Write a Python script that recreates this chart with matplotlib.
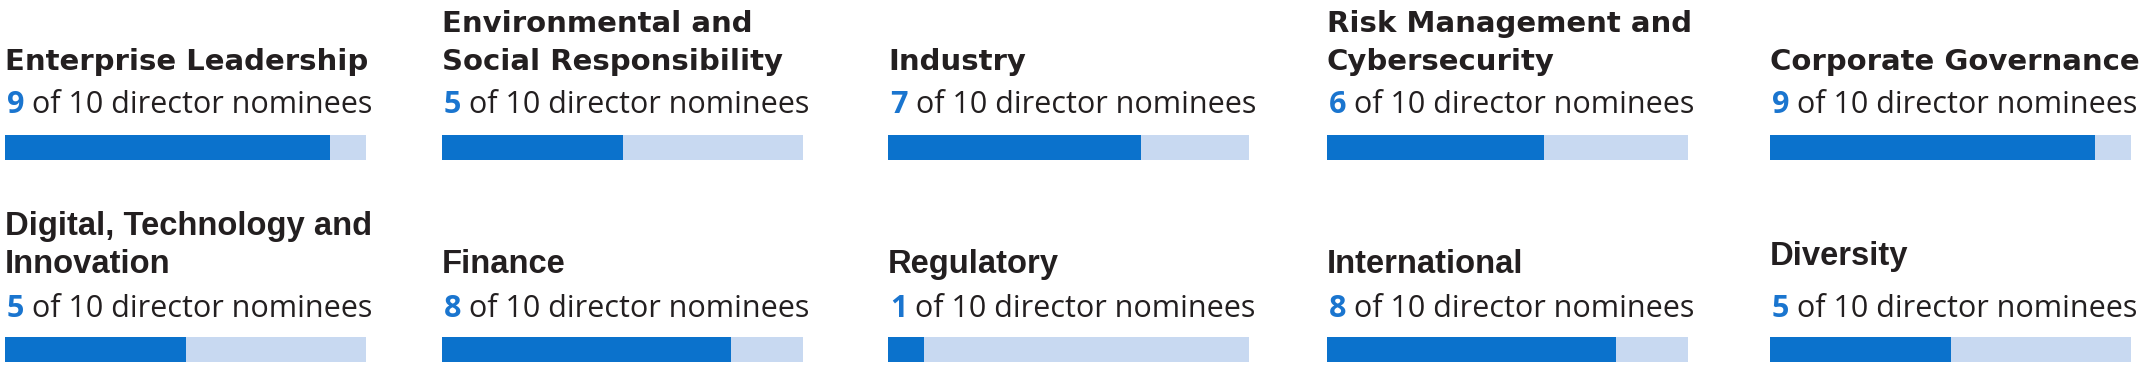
import matplotlib.pyplot as plt

# data
skills = [
    "Enterprise Leadership",
    "Environmental and\nSocial Responsibility",
    "Industry",
    "Risk Management and\nCybersecurity",
    "Corporate Governance",
    "Digital, Technology and\nInnovation",
    "Finance",
    "Regulatory",
    "International",
    "Diversity",
]
counts = [9, 5, 7, 6, 9, 5, 8, 1, 8, 5]
total = 10

# layout (pixels of the 2146x369 canvas)
W, H = 2146, 369
col_x = [5, 442, 888, 1327, 1770]
bar_top = [135, 337]
bar_w, bar_h = 361, 25
sub_base = [113, 317]
title_base = [70, 273]
line_gap = 38

dark = "#0b72cc"
light = "#c8d9f1"
ink = "#231f20"
num_blue = "#1a75cf"

title_font = [["DejaVu Sans"], ["Liberation Sans", "DejaVu Sans"]]
title_size = [21, 23.6]
sub_font = ["Open Sans", "DejaVu Sans"]
sub_size = 22


def fx(x):
    return x / W


def fy(y):
    return 1 - y / H


fig = plt.figure(figsize=(W / 100, H / 100), dpi=100)

for i, (skill, n) in enumerate(zip(skills, counts)):
    row, col = divmod(i, 5)
    x0 = col_x[col]

    # bar
    ax = fig.add_axes([fx(x0), fy(bar_top[row] + bar_h), bar_w / W, bar_h / H])
    ax.barh([0], [total], height=1, color=light, linewidth=0)
    ax.barh([0], [n], height=1, color=dark, linewidth=0)
    ax.set_xlim(0, total)
    ax.set_ylim(-0.5, 0.5)
    ax.axis("off")

    # title, one text per line, last line on the fixed baseline
    base = title_base[row]
    if skill == "Diversity":
        base -= 8
    lines = skill.split("\n")
    for k, line in enumerate(lines):
        yb = base - line_gap * (len(lines) - 1 - k)
        fig.text(fx(x0), fy(yb), line, fontsize=title_size[row], fontweight="bold",
                 family=title_font[row], color=ink, va="baseline", ha="left")

    # subtitle: blue count + rest
    t1 = fig.text(fx(x0 + 2), fy(sub_base[row]), str(n), fontsize=sub_size,
                  fontweight="bold", family=sub_font,
                  color=num_blue, va="baseline", ha="left")
    plt.annotate(" of %d director nominees" % total, xy=(1, 0),
                 xycoords=t1, fontsize=sub_size, family=sub_font,
                 color=ink, va="bottom", ha="left", annotation_clip=False)

fig.savefig("out.png", dpi=100)
